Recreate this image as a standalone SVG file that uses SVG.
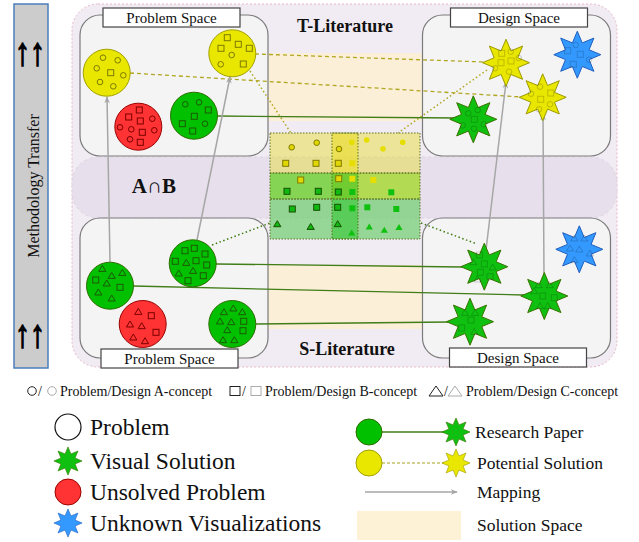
<svg xmlns="http://www.w3.org/2000/svg" xmlns:xlink="http://www.w3.org/1999/xlink" width="639" height="542" viewBox="0 0 639 542">
<style>
text{font-family:"Liberation Serif","Times New Roman",serif;fill:#111}
.box{fill:#f4f4f4;stroke:#7a7a7a;stroke-width:1.2}
.lbl{fill:#fff;stroke:#444;stroke-width:1.2}
.lt{font-size:15px;text-anchor:middle}
.big{font-size:18px;font-weight:bold;text-anchor:middle}
.arr{font-size:30px;font-weight:bold;fill:#000;stroke:#000;stroke-width:1.1}
.yc{fill:#e9e600;stroke:#a3a000;stroke-width:1}
.gc{fill:#00c000;stroke:#2e6e00;stroke-width:1}
.rc{fill:#ff3333;stroke:#9a0000;stroke-width:1}
.ys{fill:#e9e600;stroke:#9c9a00;stroke-width:1}
.gs{fill:#10c010;stroke:#3a7200;stroke-width:1}
.bs{fill:#3399ff;stroke:#1f5fbf;stroke-width:1}
.ym{fill:none;stroke:#7d7a00;stroke-width:1}
.gm{fill:none;stroke:#1d5a00;stroke-width:1}
.rm{fill:none;stroke:#7a0000;stroke-width:1}
.sm{fill:none;stroke:#000;stroke-opacity:.18;stroke-width:1}
.ydash{stroke:#b0a620;stroke-width:1.3;stroke-dasharray:4,3;fill:none}
.ydot{stroke:#b0a620;stroke-width:1.5;stroke-dasharray:1.5,2.5;fill:none}
.gdot{stroke:#3e7a10;stroke-width:1.5;stroke-dasharray:1.5,2.5;fill:none}
.gline{stroke:#417d18;stroke-width:1.3;fill:none}
.map{stroke:#a6a6a6;stroke-width:1.5;fill:none;marker-end:url(#ah)}
.cellb{fill:none;stroke:#5a7020;stroke-width:1;stroke-dasharray:1.5,1.5}
.gy{fill:#e6de00}
.gyd{fill:#e0d800;stroke:#807a00;stroke-width:1}
.gg{fill:#10c010}
.ggd{fill:#10b810;stroke:#155000;stroke-width:1}
.leg{font-size:23.5px}
.leg2{font-size:17.5px}
.leg0{font-size:14px}
</style>
<defs>
<polygon id="star" points="0,-23.5 4.9,-11.8 16.6,-16.6 11.8,-4.9 23.5,0 11.8,4.9 16.6,16.6 4.9,11.8 0,23.5 -4.9,11.8 -16.6,16.6 -11.8,4.9 -23.5,0 -11.8,-4.9 -16.6,-16.6 -4.9,-11.8"/>
<circle id="ci" r="2.8"/>
<rect id="sq" x="-3" y="-3" width="6" height="6"/>
<polygon id="tri" points="0,-3.3 3.6,2.7 -3.6,2.7"/>
<marker id="ah" viewBox="0 0 10 10" refX="9" refY="5" markerWidth="7" markerHeight="7" orient="auto" markerUnits="userSpaceOnUse">
<path d="M0,1 L10,5 L0,9 L3,5 Z" fill="#a6a6a6"/>
</marker>
</defs>

<!-- left bar -->
<g id="methodology-transfer">
<rect x="14" y="4" width="34" height="364" fill="#cccccc" stroke="#4a7ebb" stroke-width="1.5"/>
<text class="arr" transform="translate(15,65) scale(1,1.3)">↑↑</text>
<text class="arr" transform="translate(15,347) scale(1,1.3)">↑↑</text>
<text transform="translate(39,186) rotate(-90)" font-size="16" text-anchor="middle">Methodology Transfer</text>
</g>

<!-- background regions -->
<g id="background">
<rect x="72" y="4" width="545" height="363" rx="26" fill="#f1ecf3" stroke="#e7b8c8" stroke-width="1" stroke-dasharray="2,2"/>
<rect x="72" y="157" width="545" height="61" rx="26" fill="#e7e0ec" stroke="#d8cfe0" stroke-width="0.8" stroke-dasharray="3,3"/>
<rect x="268" y="53" width="155" height="68" fill="#fcf0d4" opacity="0.9"/>
<rect x="268" y="265" width="155" height="64" fill="#fcf0d4" opacity="0.9"/>
<text x="345" y="32" class="big">T-Literature</text>
<text x="347" y="355" class="big">S-Literature</text>
<text x="154" y="193" font-size="21" font-weight="bold" text-anchor="middle">A∩B</text>
</g>

<!-- spaces -->
<g id="t-problem-space">
<rect class="box" x="80" y="15" width="188" height="141" rx="20"/>
<rect class="lbl" x="103" y="8" width="137" height="19"/>
<text class="lt" x="171.5" y="23">Problem Space</text>
</g>
<g id="t-design-space">
<rect class="box" x="422.5" y="15" width="188" height="141" rx="20"/>
<rect class="lbl" x="450.5" y="8" width="137" height="19"/>
<text class="lt" x="519" y="23">Design Space</text>
</g>
<g id="s-problem-space">
<rect class="box" x="80" y="218" width="188" height="140" rx="20"/>
<rect class="lbl" x="101" y="349" width="137" height="19"/>
<text class="lt" x="169.5" y="364">Problem Space</text>
</g>
<g id="s-design-space">
<rect class="box" x="422.5" y="218" width="188" height="140" rx="20"/>
<rect class="lbl" x="449.5" y="348" width="137" height="19"/>
<text class="lt" x="518" y="363">Design Space</text>
</g>

<!-- intersection grid -->
<g id="intersection">
<rect x="270" y="133" width="62" height="40" fill="#e8dc40" opacity="0.5"/>
<rect x="358" y="133" width="62" height="40" fill="#e8dc40" opacity="0.5"/>
<rect x="332" y="133" width="26" height="40" fill="#e8dc20" opacity="0.75"/>
<rect x="270" y="173" width="62" height="26" fill="#66d020" opacity="0.75"/>
<rect x="332" y="173" width="26" height="26" fill="#5cc810" opacity="0.85"/>
<rect x="358" y="173" width="62" height="26" fill="#a0d820" opacity="0.75"/>
<rect x="270" y="199" width="62" height="40" fill="#66cc66" opacity="0.65"/>
<rect x="332" y="199" width="26" height="40" fill="#40c840" opacity="0.85"/>
<rect x="358" y="199" width="62" height="40" fill="#66cc66" opacity="0.65"/>
<rect class="cellb" x="270" y="133" width="150" height="40"/>
<rect class="cellb" x="270" y="173" width="150" height="26"/>
<rect class="cellb" x="270" y="199" width="150" height="40"/>
<rect class="cellb" x="332" y="133" width="26" height="106"/>
<use href="#ci" x="291.7" y="147.3" class="gyd"/>
<use href="#ci" x="316.7" y="142.7" class="gyd"/>
<use href="#ci" x="339" y="149" class="gyd"/>
<use href="#ci" x="351.7" y="142.3" class="gy"/>
<use href="#ci" x="366.7" y="140" class="gy"/>
<use href="#ci" x="383" y="148.7" class="gy"/>
<use href="#ci" x="402.7" y="142.3" class="gy"/>
<use href="#sq" x="285.7" y="163.3" class="gyd"/>
<use href="#sq" x="316" y="163.3" class="gyd"/>
<use href="#sq" x="338.3" y="163.3" class="gyd"/>
<use href="#sq" x="352.3" y="163.3" class="gy"/>
<use href="#sq" x="300.7" y="180" class="gyd"/>
<use href="#sq" x="338.7" y="178.7" class="gyd"/>
<use href="#sq" x="352.3" y="178.7" class="gy"/>
<use href="#sq" x="373.3" y="180" class="gy"/>
<use href="#sq" x="287" y="191.3" class="ggd"/>
<use href="#sq" x="318.3" y="191.3" class="ggd"/>
<use href="#sq" x="338.3" y="192" class="ggd"/>
<use href="#sq" x="352.3" y="192" class="gg"/>
<use href="#sq" x="391.3" y="192.3" class="gg"/>
<use href="#sq" x="292.3" y="209" class="ggd"/>
<use href="#sq" x="316.7" y="207.3" class="ggd"/>
<use href="#sq" x="337.7" y="207.3" class="ggd"/>
<use href="#sq" x="352.3" y="208.3" class="gg"/>
<use href="#sq" x="367.3" y="207.3" class="gg"/>
<use href="#sq" x="396.3" y="209" class="gg"/>
<use href="#tri" x="277.3" y="224" class="ggd"/>
<use href="#tri" x="310.7" y="226.7" class="ggd"/>
<use href="#tri" x="337.7" y="224" class="ggd"/>
<use href="#tri" x="351.7" y="232.7" class="gg"/>
<use href="#tri" x="369.3" y="226.7" class="gg"/>
<use href="#tri" x="384.3" y="230" class="gg"/>
<use href="#tri" x="399" y="227.3" class="gg"/>
</g>

<!-- connectors -->
<g id="connectors">
<line class="ydash" x1="130" y1="73" x2="522" y2="97"/>
<line class="ydash" x1="255" y1="54" x2="485" y2="62"/>
<line class="ydot" x1="250" y1="71" x2="291" y2="133"/>
<line class="ydot" x1="487" y1="70" x2="398" y2="133"/>
<line class="gline" x1="217" y1="116" x2="458" y2="118"/>
<line class="gdot" x1="212" y1="245" x2="270" y2="223"/>
<line class="gdot" x1="421" y1="223" x2="477" y2="244"/>
<line class="gline" x1="216" y1="264" x2="462" y2="267"/>
<line class="gline" x1="133" y1="286" x2="524" y2="295"/>
<line class="gline" x1="256" y1="324" x2="450" y2="322"/>
<line class="map" x1="110" y1="262" x2="107" y2="97"/>
<line class="map" x1="197" y1="240" x2="230" y2="77"/>
<line class="map" x1="486" y1="250" x2="506" y2="82"/>
<line class="map" x1="544" y1="277" x2="543" y2="114"/>
</g>

<!-- T problem nodes -->
<g id="t-problem-yellow-1">
<circle class="yc" cx="106.7" cy="72.7" r="23.5"/>
<use href="#ci" class="ym" x="103" y="57.7"/><use href="#ci" class="ym" x="117.7" y="60.3"/><use href="#ci" class="ym" x="96.7" y="68.3"/><use href="#ci" class="ym" x="123.3" y="75.3"/><use href="#ci" class="ym" x="100" y="82"/><use href="#ci" class="ym" x="113.3" y="86.3"/><use href="#sq" class="ym" x="110.7" y="72.7"/>
</g>
<g id="t-problem-yellow-2">
<circle class="yc" cx="232.3" cy="53.3" r="23.5"/>
<use href="#sq" class="ym" x="227.3" y="37.7"/><use href="#sq" class="ym" x="238.3" y="44.3"/><use href="#sq" class="ym" x="221" y="48.3"/><use href="#sq" class="ym" x="249.3" y="48.3"/><use href="#sq" class="ym" x="243.3" y="64"/><use href="#ci" class="ym" x="231.7" y="55"/><use href="#ci" class="ym" x="220.7" y="64.3"/>
</g>
<g id="t-problem-red">
<circle class="rc" cx="138.3" cy="126.7" r="23.5"/>
<use href="#sq" class="rm" x="139.3" y="110"/><use href="#sq" class="rm" x="128.7" y="117"/><use href="#sq" class="rm" x="140.3" y="121"/><use href="#sq" class="rm" x="142.3" y="132.3"/><use href="#sq" class="rm" x="140.3" y="142.3"/>
<use href="#ci" class="rm" x="152.3" y="118.7"/><use href="#ci" class="rm" x="120" y="127.3"/><use href="#ci" class="rm" x="131.3" y="129.3"/><use href="#ci" class="rm" x="154.3" y="130.3"/><use href="#ci" class="rm" x="130" y="139.3"/>
</g>
<g id="t-problem-green">
<circle class="gc" cx="194" cy="115.7" r="23.5"/>
<use href="#ci" class="gm" x="185.3" y="104.3"/><use href="#ci" class="gm" x="199" y="102.3"/><use href="#ci" class="gm" x="205" y="123.7"/>
<use href="#sq" class="gm" x="208.3" y="110"/><use href="#sq" class="gm" x="194.3" y="116.3"/><use href="#sq" class="gm" x="182.3" y="123.7"/><use href="#sq" class="gm" x="192.7" y="131"/>
</g>

<!-- T design nodes -->
<g id="t-design-yellow-a">
<use href="#star" class="ys" x="506" y="62.7"/>
<use href="#sq" class="sm" x="501.7" y="53.3"/><use href="#sq" class="sm" x="501" y="62.7"/><use href="#sq" class="sm" x="511" y="61"/>
<use href="#ci" class="sm" x="510.7" y="51.7"/><use href="#ci" class="sm" x="518.7" y="58"/><use href="#ci" class="sm" x="495" y="68.3"/><use href="#ci" class="sm" x="509" y="71.7"/>
</g>
<g id="t-design-yellow-b">
<use href="#star" class="ys" x="542.7" y="97.3"/>
<use href="#ci" class="sm" x="540" y="86.7"/><use href="#ci" class="sm" x="531" y="93.7"/><use href="#ci" class="sm" x="550" y="104.3"/><use href="#ci" class="sm" x="539" y="109.3"/>
<use href="#sq" class="sm" x="550.7" y="93"/><use href="#sq" class="sm" x="540.7" y="99.3"/>
</g>
<g id="t-design-green">
<use href="#star" class="gs" x="473.3" y="119.3"/>
<use href="#ci" class="sm" x="468.3" y="113.3"/><use href="#ci" class="sm" x="477.7" y="110"/><use href="#ci" class="sm" x="462.7" y="125.3"/><use href="#ci" class="sm" x="483.7" y="124.3"/><use href="#ci" class="sm" x="474" y="128.7"/>
<use href="#sq" class="sm" x="474.3" y="119.3"/>
</g>
<g id="t-design-blue">
<use href="#star" class="bs" x="577.3" y="54.7"/>
<use href="#ci" class="sm" x="575.7" y="45"/><use href="#sq" class="sm" x="567.7" y="50.7"/><use href="#sq" class="sm" x="580.3" y="54.3"/><use href="#sq" class="sm" x="573.3" y="64.3"/><use href="#ci" class="sm" x="589" y="59.7"/>
</g>

<!-- S problem nodes -->
<g id="s-problem-green-1">
<circle class="gc" cx="110" cy="285.7" r="23.5"/>
<use href="#tri" class="gm" x="102.3" y="268.7"/><use href="#tri" class="gm" x="111.7" y="275.7"/><use href="#tri" class="gm" x="122.3" y="272.7"/><use href="#tri" class="gm" x="106.7" y="283.3"/><use href="#tri" class="gm" x="98.3" y="292.3"/><use href="#tri" class="gm" x="111.7" y="298.3"/>
<use href="#sq" class="gm" x="95.7" y="280"/><use href="#sq" class="gm" x="120" y="287.3"/>
</g>
<g id="s-problem-green-2">
<circle class="gc" cx="192.7" cy="263.3" r="23.5"/>
<use href="#sq" class="gm" x="185" y="250.7"/><use href="#sq" class="gm" x="194.3" y="248.3"/><use href="#sq" class="gm" x="205" y="254"/><use href="#sq" class="gm" x="175.3" y="261.3"/><use href="#sq" class="gm" x="196" y="260.7"/><use href="#sq" class="gm" x="206.7" y="265"/><use href="#sq" class="gm" x="203.3" y="275.7"/><use href="#sq" class="gm" x="188" y="280.7"/>
<use href="#tri" class="gm" x="186.3" y="262.7"/><use href="#tri" class="gm" x="193" y="270.7"/><use href="#tri" class="gm" x="178.7" y="273.3"/>
</g>
<g id="s-problem-red">
<circle class="rc" cx="142.7" cy="324" r="23.5"/>
<use href="#tri" class="rm" x="138.3" y="311.7"/><use href="#tri" class="rm" x="130" y="324.3"/><use href="#tri" class="rm" x="141.7" y="326"/><use href="#tri" class="rm" x="133.3" y="337.3"/><use href="#tri" class="rm" x="145" y="341"/>
<use href="#sq" class="rm" x="151.3" y="315.7"/><use href="#sq" class="rm" x="156" y="332.3"/>
</g>
<g id="s-problem-green-3">
<circle class="gc" cx="232.3" cy="324" r="23.5"/>
<use href="#tri" class="gm" x="224" y="312"/><use href="#tri" class="gm" x="233.3" y="308.3"/><use href="#tri" class="gm" x="242.3" y="312"/><use href="#tri" class="gm" x="220" y="321.3"/><use href="#tri" class="gm" x="231.3" y="322"/><use href="#tri" class="gm" x="227.3" y="330"/><use href="#tri" class="gm" x="223" y="340"/><use href="#tri" class="gm" x="234.3" y="340"/>
<use href="#sq" class="gm" x="243.7" y="321.3"/><use href="#sq" class="gm" x="243" y="330.7"/>
</g>

<!-- S design nodes -->
<g id="s-design-green-1">
<use href="#star" class="gs" x="484.3" y="266.7"/>
<use href="#sq" class="sm" x="479.3" y="255"/><use href="#sq" class="sm" x="484.3" y="264"/><use href="#sq" class="sm" x="480.3" y="272.3"/><use href="#sq" class="sm" x="490" y="276.7"/>
<use href="#tri" class="sm" x="473.3" y="262"/><use href="#tri" class="sm" x="492.7" y="267.3"/><use href="#tri" class="sm" x="477.3" y="279.3"/>
</g>
<g id="s-design-green-2">
<use href="#star" class="gs" x="544.3" y="296"/>
<use href="#tri" class="sm" x="538.7" y="285"/><use href="#tri" class="sm" x="549.7" y="285"/><use href="#tri" class="sm" x="534" y="291"/><use href="#tri" class="sm" x="540" y="306"/><use href="#tri" class="sm" x="547.7" y="306"/>
<use href="#sq" class="sm" x="542.7" y="296"/><use href="#sq" class="sm" x="554.3" y="297.7"/>
</g>
<g id="s-design-green-3">
<use href="#star" class="gs" x="470" y="321.7"/>
<use href="#tri" class="sm" x="465" y="312.7"/><use href="#tri" class="sm" x="475" y="312.7"/><use href="#tri" class="sm" x="474.3" y="331.7"/>
<use href="#sq" class="sm" x="471" y="320"/><use href="#sq" class="sm" x="461.7" y="328"/>
</g>
<g id="s-design-blue">
<use href="#star" class="bs" x="579.3" y="249.3"/>
<use href="#tri" class="sm" x="574.3" y="238.3"/><use href="#tri" class="sm" x="584.3" y="238.3"/><use href="#tri" class="sm" x="570" y="248.3"/><use href="#tri" class="sm" x="579.3" y="249.3"/><use href="#tri" class="sm" x="590" y="253.3"/><use href="#tri" class="sm" x="574.3" y="260"/>
</g>

<!-- legend -->
<g id="legend-concepts">
<circle cx="32" cy="391" r="4.3" fill="none" stroke="#222" stroke-width="1"/>
<text x="38" y="396" class="leg0">/</text>
<circle cx="52" cy="391" r="4.3" fill="none" stroke="#aaa" stroke-width="1"/>
<text x="60" y="396" class="leg0">Problem/Design A-concept</text>
<rect x="230" y="386.5" width="10" height="9" fill="none" stroke="#222" stroke-width="1"/>
<text x="242" y="396" class="leg0">/</text>
<rect x="251" y="386.5" width="10" height="9" fill="none" stroke="#aaa" stroke-width="1"/>
<text x="265" y="396" class="leg0">Problem/Design B-concept</text>
<polygon points="436,386 443,396 429,396" fill="none" stroke="#222" stroke-width="1"/>
<text x="444" y="396" class="leg0">/</text>
<polygon points="455,386 462,396 448,396" fill="none" stroke="#aaa" stroke-width="1"/>
<text x="466" y="396" class="leg0">Problem/Design C-concept</text>
</g>
<g id="legend-problem">
<circle cx="68" cy="427" r="13" fill="#fff" stroke="#111" stroke-width="1.2"/>
<text x="90" y="435" class="leg">Problem</text>
</g>
<g id="legend-visual-solution">
<use href="#star" class="gs" transform="translate(68,461) scale(0.6)"/>
<text x="90" y="469" class="leg">Visual Solution</text>
</g>
<g id="legend-unsolved">
<circle cx="68" cy="492" r="13" class="rc" stroke="#111"/>
<text x="90" y="500" class="leg">Unsolved Problem</text>
</g>
<g id="legend-unknown">
<use href="#star" class="bs" transform="translate(68,523) scale(0.6)"/>
<text x="90" y="531" class="leg">Unknown Visualizations</text>
</g>
<g id="legend-research-paper">
<line x1="382" y1="432" x2="446" y2="432" class="gline"/>
<circle cx="369" cy="432" r="13" class="gc"/>
<use href="#star" class="gs" transform="translate(456,432) scale(0.6)"/>
<text x="475" y="438" class="leg2">Research Paper</text>
</g>
<g id="legend-potential-solution">
<line x1="382" y1="463" x2="446" y2="463" stroke="#a8a020" stroke-width="1" stroke-dasharray="3,2"/>
<circle cx="369" cy="463" r="13" class="yc"/>
<use href="#star" class="ys" transform="translate(456,463) scale(0.6)"/>
<text x="477" y="469" class="leg2">Potential Solution</text>
</g>
<g id="legend-mapping">
<line x1="365" y1="492" x2="457" y2="492" class="map"/>
<text x="477" y="498" class="leg2">Mapping</text>
</g>
<g id="legend-solution-space">
<rect x="357" y="511" width="104" height="29" fill="#fdf1d6"/>
<text x="477" y="531" class="leg2">Solution Space</text>
</g>
</svg>
